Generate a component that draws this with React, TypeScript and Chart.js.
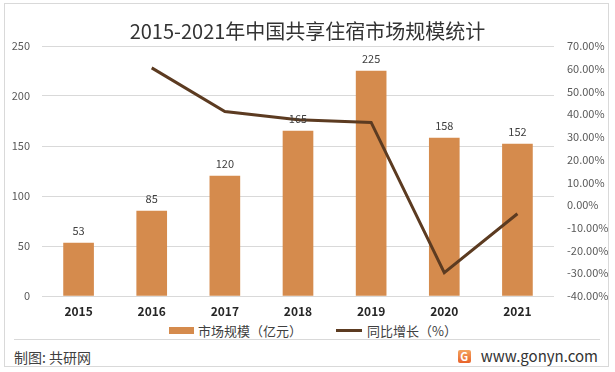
import React, { useEffect, useRef } from 'react';
import { Chart, registerables } from 'chart.js';

Chart.register(...registerables);

const titleText = '2015-2021年中国共享住宿市场规模统计';
const years = ['2015', '2016', '2017', '2018', '2019', '2020', '2021'];
const marketSize = [53, 85, 120, 165, 225, 158, 152];
const growthPct = [null, 60.38, 41.18, 37.5, 36.36, -29.78, -3.8];
const leftAxis = { min: 0, max: 250, step: 50 };
const rightAxis = { min: -40, max: 70, step: 10 };
const barLabel = '市场规模（亿元）';
const lineLabel = '同比增长（%）';
const sourceText = '制图: 共研网';
const siteText = 'www.gonyn.com';

const FONT = "'Noto Sans CJK SC', 'Noto Sans', sans-serif";
const BAR_COLOR = '#D58B4D';
const LINE_COLOR = '#5C3B21';

const barLabelPlugin = {
  id: 'barLabels',
  afterDatasetsDraw(chart: any) {
    const ctx = chart.ctx;
    chart.data.datasets.forEach((ds: any, i: number) => {
      if (ds.type !== 'bar') return;
      const meta = chart.getDatasetMeta(i);
      ctx.save();
      ctx.font = `11px ${FONT}`;
      ctx.fillStyle = '#404040';
      ctx.textAlign = 'center';
      ctx.textBaseline = 'middle';
      meta.data.forEach((el: any, j: number) => {
        ctx.fillText(String(ds.data[j]), el.x, el.y - 12);
      });
      ctx.restore();
    });
  },
};

export default function App() {
  const ref = useRef<HTMLCanvasElement>(null);

  useEffect(() => {
    if (!ref.current) return;
    const chart = new Chart(ref.current, {
      type: 'bar',
      data: {
        labels: years,
        datasets: [
          {
            type: 'line',
            label: lineLabel,
            data: growthPct,
            yAxisID: 'y1',
            borderColor: LINE_COLOR,
            backgroundColor: LINE_COLOR,
            borderWidth: 3,
            pointRadius: 0,
            tension: 0,
            order: 0,
          } as any,
          {
            type: 'bar',
            label: barLabel,
            data: marketSize,
            yAxisID: 'y',
            backgroundColor: BAR_COLOR,
            barThickness: 30,
            order: 1,
          },
        ],
      },
      options: {
        animation: false,
        responsive: false,
        maintainAspectRatio: false,
        layout: { padding: { top: 46, left: 0, right: 0, bottom: 0 } },
        plugins: {
          legend: { display: false },
          tooltip: { enabled: false },
          title: { display: false },
        },
        scales: {
          x: {
            grid: { display: false, drawTicks: false },
            border: { display: false },
            ticks: { color: '#262626', font: { family: FONT, size: 12, weight: 'bold' }, padding: 8 },
            afterFit(s: any) { s.height = 24; },
          },
          y: {
            position: 'left',
            min: leftAxis.min,
            max: leftAxis.max,
            ticks: { stepSize: leftAxis.step, color: '#595959', font: { family: FONT, size: 11 }, padding: 12 },
            grid: { color: '#D9D9D9', drawTicks: false },
            border: { display: false },
            afterFit(s: any) { s.width = 42; },
          },
          y1: {
            position: 'right',
            min: rightAxis.min,
            max: rightAxis.max,
            ticks: {
              stepSize: rightAxis.step,
              color: '#595959',
              font: { family: FONT, size: 11 },
              padding: 13,
              callback: (v: any) => Number(v).toFixed(2) + '%',
            },
            grid: { display: false, drawTicks: false },
            border: { display: false },
            afterFit(s: any) { s.width = 61; },
          },
        },
      } as any,
      plugins: [barLabelPlugin],
    });
    return () => chart.destroy();
  }, []);

  return (
    <div style={{ position: 'absolute', left: 0, top: 0, width: 615, height: 372, background: '#fff', fontFamily: FONT, overflow: 'hidden' }}>
      <div style={{ position: 'absolute', left: 4, top: 3, width: 603, height: 362, border: '1px solid #D9D9D9' }} />
      <div style={{ position: 'absolute', left: 14, top: 339, width: 586, height: 1, background: '#D9D9D9' }} />
      <canvas ref={ref} width={615} height={320} style={{ position: 'absolute', left: 0, top: 0, width: 615, height: 320 }} />
      <div style={{ position: 'absolute', left: 0, top: 17, width: 615, textAlign: 'center', fontSize: 20, lineHeight: '28px', color: '#333333' }}>{titleText}</div>
      <div style={{ position: 'absolute', left: 169, top: 320, height: 20, display: 'flex', alignItems: 'center', fontSize: 13, color: '#404040', whiteSpace: 'nowrap' }}>
        <span style={{ display: 'inline-block', width: 25, height: 7, background: BAR_COLOR, marginRight: 4 }} />
        <span>{barLabel}</span>
        <span style={{ display: 'inline-block', width: 26, height: 3, background: LINE_COLOR, marginLeft: 34, marginRight: 5 }} />
        <span>{lineLabel}</span>
      </div>
      <div style={{ position: 'absolute', left: 14, top: 346, fontSize: 14, lineHeight: '22px', color: '#404040' }}>{sourceText}</div>
      <div style={{ position: 'absolute', right: 17, top: 344, display: 'flex', alignItems: 'center', fontSize: 15, lineHeight: '24px', color: '#333' }}>
        <span style={{ display: 'inline-block', width: 13, height: 13, borderRadius: 2, background: 'linear-gradient(#F4A460, #E8632A)', color: '#fff', fontSize: 11, lineHeight: '13px', textAlign: 'center', fontWeight: 700, marginRight: 10 }}>G</span>
        <span>{siteText}</span>
      </div>
    </div>
  );
}
